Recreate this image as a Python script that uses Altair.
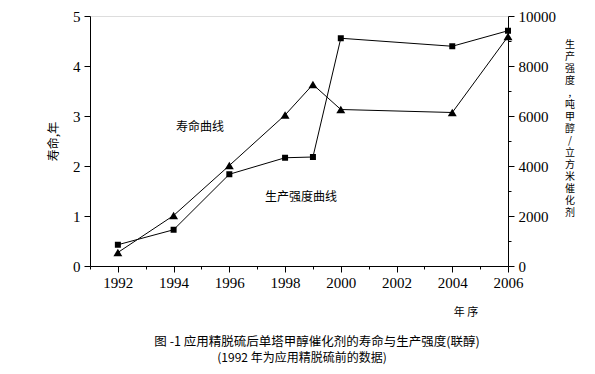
import altair as alt
import pandas as pd

# ---- data ----
years = [1992, 1994, 1996, 1998, 1999, 2000, 2004, 2006]
life_years = [0.27, 1.01, 2.01, 3.02, 3.63, 3.13, 3.07, 4.59]       # 寿命 (年), left axis
intensity = [850, 1450, 3670, 4330, 4360, 9110, 8790, 9410]          # 生产强度, right axis

x_ticks = list(range(1991, 2007))
left_ticks = [i * 0.5 for i in range(11)]
right_ticks = list(range(0, 10001, 1000))

left_title = "寿命,年"
right_title = "生产强度,吨甲醇/立方米催化剂"
x_title = "年   序"
ann_life = "寿命曲线"
ann_int = "生产强度曲线"
caption1 = "图 -1  应用精脱硫后单塔甲醇催化剂的寿命与生产强度(联醇)"
caption2 = "(1992 年为应用精脱硫前的数据)"

df = pd.DataFrame({"year": years, "life": life_years, "intensity": intensity})

SERIF = "Liberation Serif"
CJK = "Noto Sans CJK SC"

x_enc = alt.X(
    "year:Q",
    scale=alt.Scale(domain=[1991, 2006], nice=False, zero=False),
    axis=alt.Axis(
        values=x_ticks, title=None, format="d", grid=False,
        labelExpr="datum.value % 2 == 0 ? datum.label : ''",
        tickSize={"condition": {"test": "datum.value % 2 == 0", "value": 6}, "value": 3},
        labelFont=SERIF, labelFontSize=15, labelColor="black",
        domainColor="black", tickColor="black", labelOverlap=False, labelFlush=False,
        labelPadding=3,
    ),
)

base = alt.Chart(df)

tri = base.mark_line(
    color="black", strokeWidth=1,
    point=alt.OverlayMarkDef(shape="triangle-up", filled=True, color="black", size=80),
).encode(
    x=x_enc,
    y=alt.Y(
        "life:Q",
        scale=alt.Scale(domain=[0, 5], nice=False),
        axis=alt.Axis(
            orient="left", values=left_ticks, grid=False, format="d",
            labelExpr="datum.value % 1 == 0 ? datum.label : ''",
            tickSize={"condition": {"test": "datum.value % 1 == 0", "value": 6}, "value": 3},
            title=left_title, titleFont=CJK, titleFontSize=12, titleFontWeight="normal",
            titleColor="black", titlePadding=12,
            labelFont=SERIF, labelFontSize=15, labelColor="black",
            domainColor="black", tickColor="black", labelOverlap=False, labelFlush=False,
            labelPadding=4,
        ),
    ),
)

sq = base.mark_line(
    color="black", strokeWidth=1,
    point=alt.OverlayMarkDef(shape="square", filled=True, color="black", size=36),
).encode(
    x=x_enc,
    y=alt.Y(
        "intensity:Q",
        scale=alt.Scale(domain=[0, 10000], nice=False),
        axis=alt.Axis(
            orient="right", values=right_ticks, grid=False, format="d", title=None,
            labelExpr="datum.value % 2000 == 0 ? datum.label : ''",
            tickSize={"condition": {"test": "datum.value % 2000 == 0", "value": 6}, "value": 3},
            labelFont=SERIF, labelFontSize=15, labelColor="black",
            domainColor="black", tickColor="black", labelOverlap=False, labelFlush=False,
            labelPadding=4,
        ),
    ),
)

one = pd.DataFrame({"k": [0]})


def txt(text, x, y, size=12, align="center", baseline="middle", **kw):
    return alt.Chart(one).mark_text(
        text=text, font=CJK, fontSize=size, color="black", align=align, baseline=baseline, **kw
    ).encode(x=alt.value(x), y=alt.value(y))


texts = [
    txt(list(right_title), 480, 24, size=10, baseline="top", lineHeight=12),
    txt(ann_life, 110, 111, size=12),
    txt(ann_int, 211, 181, size=12),
    txt(x_title, 376, 297, size=11),
    txt(caption1, 227, 326, size=12.5),
    txt(caption2, 212, 342, size=12),
]

chart = alt.layer(tri, sq, *texts).resolve_scale(y="independent").properties(
    width=418,
    height=250,
    autosize=alt.AutoSizeParams(type="none"),
    padding={"left": 82, "top": 8, "right": 79, "bottom": 100},
).configure_view(stroke=None).configure(background="white")

chart.save("out.html", embed_options={"renderer": "svg", "actions": False})
